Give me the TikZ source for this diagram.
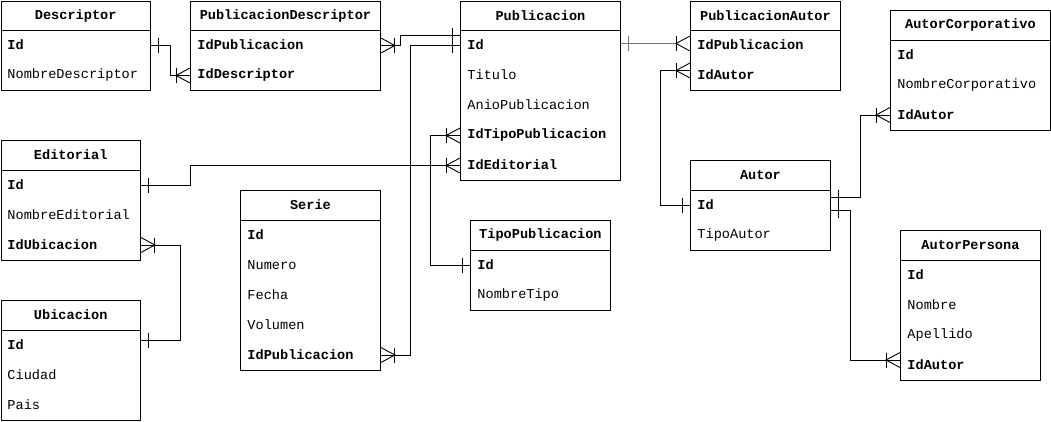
\documentclass[tikz,border=0pt]{standalone}
\usepackage{fontspec}
\setmonofont{Liberation Mono}
\begin{document}
\begin{tikzpicture}[x=1pt,y=-1pt,line width=0.9pt,
  tbox/.style={draw,rectangle,anchor=north west,inner sep=0pt,fill=white},
  hdr/.style={font=\ttfamily\bfseries\fontsize{13.6}{15}\selectfont,inner sep=0pt},
  keyf/.style={font=\ttfamily\bfseries\fontsize{13.6}{15}\selectfont,anchor=west,inner sep=0pt},
  attf/.style={font=\ttfamily\fontsize{13.6}{15}\selectfont,anchor=west,inner sep=0pt},
  conn/.style={draw,line width=0.9pt},
  crow/.pic={\draw[line width=0.9pt] (0,-7.5) -- (-14,0) -- (0,7.5); \draw[line width=0.9pt] (-14,-7.5) -- (-14,7.5);},
  onebar/.pic={\draw[line width=0.9pt] (-8,-7.5) -- (-8,7.5);}
]
\useasboundingbox (0,0) rectangle (1051,421);

% table macro usage: box, header line, header text
\newcommand\ertab[6]{%
  \node[tbox,minimum width=#4pt,minimum height=#5pt] (#1) at (#2,#3) {};
  \draw ([yshift=-30pt]#1.north west) -- ([yshift=-30pt]#1.north east);
  \node[hdr] (#1-h) at ([yshift=-15pt]#1.north) {#6};
}

% Descriptor
\ertab{desc}{0.5}{0.5}{149.5}{89.5}{Descriptor}
\node[keyf] (desc-id) at (7,45) {Id};
\node[attf] (desc-nom) at (7,75) {NombreDescriptor};

% PublicacionDescriptor
\ertab{pd}{190}{0.5}{190}{89.5}{PublicacionDescriptor}
\node[keyf] (pd-idpub) at (197,45) {IdPublicacion};
\node[keyf] (pd-iddesc) at (197,75) {IdDescriptor};

% Publicacion
\ertab{pub}{460}{0.5}{160}{179.5}{Publicacion}
\node[keyf] (pub-id) at (467,45) {Id};
\node[attf] (pub-tit) at (467,75) {Titulo};
\node[attf] (pub-anio) at (467,105) {AnioPublicacion};
\node[keyf] (pub-idtipo) at (467,135) {IdTipoPublicacion};
\node[keyf] (pub-ided) at (467,165) {IdEditorial};

% PublicacionAutor
\ertab{pa}{690}{0.5}{150}{89.5}{PublicacionAutor}
\node[keyf] (pa-idpub) at (697,45) {IdPublicacion};
\node[keyf] (pa-idaut) at (697,75) {IdAutor};

% AutorCorporativo
\ertab{ac}{890}{10}{160}{120}{AutorCorporativo}
\node[keyf] (ac-id) at (897,55) {Id};
\node[attf] (ac-nom) at (897,85) {NombreCorporativo};
\node[keyf] (ac-idaut) at (897,115) {IdAutor};

% Editorial
\ertab{ed}{0.5}{140}{139.5}{120}{Editorial}
\node[keyf] (ed-id) at (7,185) {Id};
\node[attf] (ed-nom) at (7,215) {NombreEditorial};
\node[keyf] (ed-idub) at (7,245) {IdUbicacion};

% Ubicacion
\ertab{ub}{0.5}{300}{139.5}{120}{Ubicacion}
\node[keyf] (ub-id) at (7,345) {Id};
\node[attf] (ub-ciu) at (7,375) {Ciudad};
\node[attf] (ub-pais) at (7,405) {Pais};

% Serie
\ertab{se}{240}{190}{140}{180}{Serie}
\node[keyf] (se-id) at (247,235) {Id};
\node[attf] (se-num) at (247,265) {Numero};
\node[attf] (se-fec) at (247,295) {Fecha};
\node[attf] (se-vol) at (247,325) {Volumen};
\node[keyf] (se-idpub) at (247,355) {IdPublicacion};

% TipoPublicacion
\ertab{tp}{470}{220}{140}{90}{TipoPublicacion}
\node[keyf] (tp-id) at (477,265) {Id};
\node[attf] (tp-nom) at (477,295) {NombreTipo};

% Autor
\ertab{au}{690}{160}{140}{90}{Autor}
\node[keyf] (au-id) at (697,205) {Id};
\node[attf] (au-tipo) at (697,235) {TipoAutor};

% AutorPersona
\ertab{ap}{900}{230}{140}{150}{AutorPersona}
\node[keyf] (ap-id) at (907,275) {Id};
\node[attf] (ap-nom) at (907,305) {Nombre};
\node[attf] (ap-ape) at (907,335) {Apellido};
\node[keyf] (ap-idaut) at (907,365) {IdAutor};

% ---- connectors ----
% coordinates on box edges
\coordinate (c1a) at (desc.east |- desc-id);
\coordinate (c1b) at ([yshift=-75pt]pd.north west);
\draw[conn] (c1a) -- ++(20,0) |- (c1b);
\pic[xscale=-1] at (c1a) {onebar};
\pic at (c1b) {crow};

\coordinate (c2a) at ([yshift=-45pt]pd.north east);
\coordinate (c2b) at ([yshift=-35pt]pub.north west);
\draw[conn] (c2a) -- ++(20,0) |- (c2b);
\pic[xscale=-1] at (c2a) {crow};
\pic at (c2b) {onebar};

\coordinate (c3a) at (se.east |- se-idpub);
\coordinate (c3b) at ([yshift=-45pt]pub.north west);
\draw[conn] (c3a) -- ++(30,0) |- (c3b);
\pic[xscale=-1] at (c3a) {crow};
\pic at (c3b) {onebar};

\coordinate (c4a) at (ed.east |- ed-id);
\coordinate (c4b) at ([yshift=-165pt]pub.north west);
\draw[conn] (c4a) -- ++(50,0) |- (c4b);
\pic[xscale=-1] at (c4a) {onebar};
\pic at (c4b) {crow};

\coordinate (c5a) at (tp.west |- tp-id);
\coordinate (c5b) at ([yshift=-135pt]pub.north west);
\draw[conn] (c5a) -- ++(-40,0) |- (c5b);
\pic at (c5a) {onebar};
\pic at (c5b) {crow};

\coordinate (c6a) at ([yshift=-40pt]ub.north east);
\coordinate (c6b) at ([yshift=-105pt]ed.north east);
\draw[conn] (c6a) -- ++(40,0) |- (c6b);
\pic[xscale=-1] at (c6a) {onebar};
\pic[xscale=-1] at (c6b) {crow};

\coordinate (c7a) at ([yshift=-43pt]pub.north east);
\coordinate (c7b) at ([yshift=-43pt]pa.north west);
\draw[conn,draw=black!55,line width=1.6pt] (c7a) -- ([xshift=-14pt]c7b);
\pic[xscale=-1,draw=black!55] at (c7a) {onebar};
\pic at (c7b) {crow};

\coordinate (c8a) at (au.west |- au-id);
\coordinate (c8b) at ([yshift=-70pt]pa.north west);
\draw[conn] (c8a) -- ++(-30,0) |- (c8b);
\pic at (c8a) {onebar};
\pic at (c8b) {crow};

\coordinate (c9a) at ([yshift=-37pt]au.north east);
\coordinate (c9b) at (ac.west |- ac-idaut);
\draw[conn] (c9a) -- ++(30,0) |- (c9b);
\pic[xscale=-1,yshift=0pt] at (c9a) {onebar};
\pic at (c9b) {crow};

\coordinate (c10a) at ([yshift=-50pt]au.north east);
\coordinate (c10b) at ([yshift=-130pt]ap.north west);
\draw[conn] (c10a) -- ++(20,0) |- (c10b);
\pic[xscale=-1] at (c10a) {onebar};
\pic at (c10b) {crow};
\end{tikzpicture}
\end{document}
